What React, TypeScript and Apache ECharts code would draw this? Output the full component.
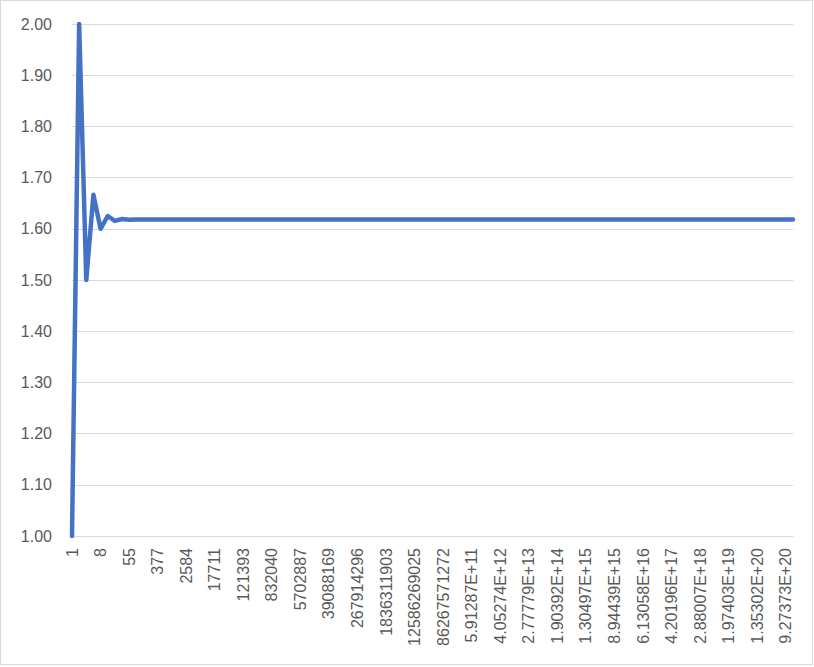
import React, { useEffect, useRef } from "react";
import * as echarts from "echarts";

const categories: string[] = [
  "1", "2", "3", "5", "8", "13", "21", "34", "55", "89",
  "144", "233", "377", "610", "987", "1597", "2584", "4181", "6765", "10946",
  "17711", "28657", "46368", "75025", "121393", "196418", "317811", "514229", "832040", "1346269",
  "2178309", "3524578", "5702887", "9227465", "14930352", "24157817", "39088169", "63245986", "102334155", "165580141",
  "267914296", "433494437", "701408733", "1134903170", "1836311903", "2971215073", "4807526976", "7778742049", "12586269025", "20365011074",
  "32951280099", "53316291173", "86267571272", "1.39584E+11", "2.25851E+11", "3.65435E+11", "5.91287E+11", "9.56722E+11", "1.54801E+12", "2.50473E+12",
  "4.05274E+12", "6.55747E+12", "1.06102E+13", "1.71677E+13", "2.77779E+13", "4.49456E+13", "7.27235E+13", "1.17669E+14", "1.90392E+14", "3.08062E+14",
  "4.98454E+14", "8.06516E+14", "1.30497E+15", "2.11149E+15", "3.41645E+15", "5.52794E+15", "8.94439E+15", "1.44723E+16", "2.34167E+16", "3.78891E+16",
  "6.13058E+16", "9.91949E+16", "1.60501E+17", "2.59695E+17", "4.20196E+17", "6.79892E+17", "1.10009E+18", "1.77998E+18", "2.88007E+18", "4.66005E+18",
  "7.54011E+18", "1.22002E+19", "1.97403E+19", "3.19404E+19", "5.16807E+19", "8.36211E+19", "1.35302E+20", "2.18923E+20", "3.54225E+20", "5.73148E+20",
  "9.27373E+20", "1.50052E+21",
];

const ratios: number[] = [
  1, 2, 1.5, 1.666667, 1.6, 1.625, 1.615385, 1.619048, 1.617647, 1.618182,
  1.617978, 1.618056, 1.618026, 1.618037, 1.618033, 1.618034, 1.618034, 1.618034, 1.618034, 1.618034,
  1.618034, 1.618034, 1.618034, 1.618034, 1.618034, 1.618034, 1.618034, 1.618034, 1.618034, 1.618034,
  1.618034, 1.618034, 1.618034, 1.618034, 1.618034, 1.618034, 1.618034, 1.618034, 1.618034, 1.618034,
  1.618034, 1.618034, 1.618034, 1.618034, 1.618034, 1.618034, 1.618034, 1.618034, 1.618034, 1.618034,
  1.618034, 1.618034, 1.618034, 1.618034, 1.618034, 1.618034, 1.618034, 1.618034, 1.618034, 1.618034,
  1.618034, 1.618034, 1.618034, 1.618034, 1.618034, 1.618034, 1.618034, 1.618034, 1.618034, 1.618034,
  1.618034, 1.618034, 1.618034, 1.618034, 1.618034, 1.618034, 1.618034, 1.618034, 1.618034, 1.618034,
  1.618034, 1.618034, 1.618034, 1.618034, 1.618034, 1.618034, 1.618034, 1.618034, 1.618034, 1.618034,
  1.618034, 1.618034, 1.618034, 1.618034, 1.618034, 1.618034, 1.618034, 1.618034, 1.618034, 1.618034,
  1.618034, 1.618034,
];

const FONT = "'Liberation Sans', Arial, sans-serif";

export default function App() {
  const ref = useRef<HTMLDivElement>(null);
  useEffect(() => {
    if (!ref.current) return;
    const chart = echarts.init(ref.current, null, { renderer: "svg" });
    chart.setOption({
      animation: false,
      backgroundColor: "transparent",
      grid: { left: 72, right: 21, top: 24, bottom: 131, containLabel: false },
      xAxis: {
        type: "category",
        data: categories,
        boundaryGap: false,
        axisLine: { show: true, lineStyle: { color: "#d9d9d9", width: 1 } },
        axisTick: { show: false },
        axisLabel: {
          interval: 3,
          rotate: 90,
          margin: 12,
          color: "#595959",
          fontSize: 16,
          fontFamily: FONT,
        },
        splitLine: { show: false },
      },
      yAxis: {
        type: "value",
        min: 1,
        max: 2,
        interval: 0.1,
        axisLine: { show: false },
        axisTick: { show: false },
        axisLabel: {
          color: "#595959",
          fontSize: 16,
          fontFamily: FONT,
          margin: 20,
          formatter: (v: number) => v.toFixed(2),
        },
        splitLine: { show: true, lineStyle: { color: "#d9d9d9", width: 1 } },
      },
      series: [
        {
          type: "line",
          data: ratios,
          showSymbol: false,
          symbol: "none",
          lineStyle: { color: "#4472c4", width: 4.5, cap: "round", join: "round" },
        },
      ],
    });
    return () => chart.dispose();
  }, []);
  return (
    <div
      style={{
        position: "fixed",
        left: 0,
        top: 0,
        width: 813,
        height: 665,
        border: "1px solid #d9d9d9",
        boxSizing: "border-box",
        background: "#fff",
      }}
    >
      <div ref={ref} style={{ position: "absolute", left: -1, top: -1, width: 814, height: 667 }} />
    </div>
  );
}
